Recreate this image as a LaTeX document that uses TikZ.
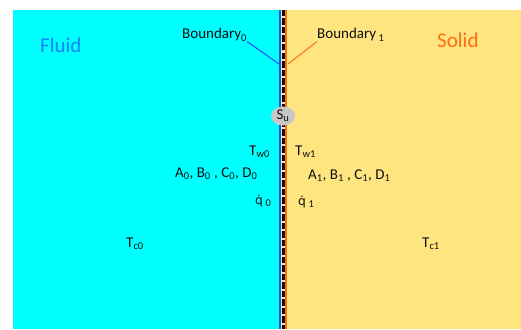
\documentclass[tikz,border=0pt]{standalone}
\usepackage{fontspec}
\setmainfont{Carlito}
\newfontfamily\qfont{DejaVu Sans}[Scale=0.82]
\usetikzlibrary{shapes.geometric}
\definecolor{fluidbg}{RGB}{0,255,255}
\definecolor{solidbg}{RGB}{255,229,128}
\definecolor{bline}{RGB}{30,80,255}
\definecolor{oline}{RGB}{255,110,20}
\definecolor{fluidtxt}{RGB}{20,130,245}
\definecolor{soltxt}{RGB}{255,110,20}
\definecolor{txt}{RGB}{15,15,15}
\definecolor{gapc}{RGB}{245,235,200}
\newcommand{\qdot}{{\qfont q^^^^0307}}
\begin{document}
\begin{tikzpicture}[x=1pt,y=-1pt,
  lbl/.style={font=\fontsize{15}{17}\selectfont, inner sep=0pt, text=txt, anchor=base west},
  bnd/.style={font=\fontsize{15}{17}\selectfont, inner sep=0pt, text=txt, anchor=base west},
  big/.style={font=\fontsize{21}{23}\selectfont, inner sep=0pt, anchor=base west}]
\useasboundingbox (0,0) rectangle (521,329);
\fill[fluidbg] (13,10) rectangle (281,329);
\fill[solidbg] (281,10) rectangle (521,329);
\draw[bline, line width=2pt] (280,10) -- (280,329);
\draw[gapc, line width=3pt] (283.5,10) -- (283.5,329);
\draw[txt, line width=3pt, dash pattern=on 6.5pt off 2pt] (283.5,10) -- (283.5,329);
\draw[oline, line width=2pt] (286,10) -- (286,329);
\node[big, text=fluidtxt] (fluid) at (40,52.5) {Fluid};
\node[big, text=soltxt] (solid) at (437,48) {Solid};
\node[bnd] (b0) at (182,39) {Boundary\textsubscript{0}};
\node[bnd] (b1) at (317,39) {Boundary\,\textsubscript{1}};
\coordinate (b0end) at (279,64);
\coordinate (b1end) at (288,64);
\draw[bline, line width=1pt] (b0.south east) -- (b0end);
\draw[oline, line width=1pt] (b1.south west) -- (b1end);
\node[ellipse, fill=black!22, minimum width=24pt, minimum height=19pt, inner sep=0pt, text=txt, font=\fontsize{15}{17}\selectfont] (su) at (283,116) {S\textsubscript{u}};
\node[lbl] (tw0) at (249,155) {T\textsubscript{w0}};
\node[lbl] (tw1) at (295,155) {T\textsubscript{w1}};
\node[lbl] (abcd0) at (175,177) {A\textsubscript{0}, B\textsubscript{0} , C\textsubscript{0}, D\textsubscript{0}};
\node[lbl] (abcd1) at (308,179) {A\textsubscript{1}, B\textsubscript{1} , C\textsubscript{1}, D\textsubscript{1}};
\node[lbl] (q0) at (255,204) {\qdot\,\textsubscript{0}};
\node[lbl] (q1) at (298,205) {\qdot\,\textsubscript{1}};
\node[lbl] (tc0) at (126,247) {T\textsubscript{c0}};
\node[lbl] (tc1) at (422,247) {T\textsubscript{c1}};
\end{tikzpicture}
\end{document}
